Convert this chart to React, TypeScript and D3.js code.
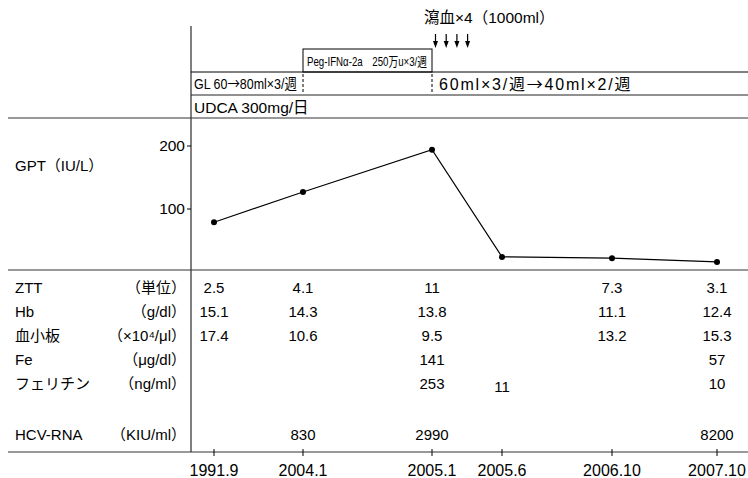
import React from "react";
import * as d3 from "d3";

const dates = ["1991.9", "2004.1", "2005.1", "2005.6", "2006.10", "2007.10"];
const dateNums = [1991.75, 2004.08, 2005.08, 2005.5, 2006.83, 2007.83];
const gpt = [79, 127, 194, 24, 22, 16];
const gptTicks = [100, 200];

const rowLabels = ["ZTT", "Hb", "血小板", "Fe", "フェリチン", "HCV-RNA"];
const rowUnits = ["（単位）", "（g/dl）", "（×10⁴/μl）", "（μg/dl）", "（ng/ml）", "（KIU/ml）"];
const ztt = [2.5, 4.1, 11, null, 7.3, 3.1];
const hb = [15.1, 14.3, 13.8, null, 11.1, 12.4];
const plt = [17.4, 10.6, 9.5, null, 13.2, 15.3];
const fe = [null, null, 141, null, null, 57];
const ferritin = [null, null, 253, 11, null, 10];
const hcv = [null, 830, 2990, null, null, 8200];
const rows = [ztt, hb, plt, fe, ferritin, hcv];

const FONT = "'Liberation Sans', Arial, 'Noto Sans CJK JP', sans-serif";
const CJK = "'Noto Sans CJK JP', sans-serif";

function Arrowed({ text }: { text: string }) {
  const parts = text.split("→");
  return (
    <>
      {parts.map((p, i) => (
        <React.Fragment key={i}>
          {i > 0 ? <tspan fontFamily={CJK}>→</tspan> : null}
          <tspan>{p}</tspan>
        </React.Fragment>
      ))}
    </>
  );
}

export default function App() {
  const W = 748, H = 478;
  const axisX = 191;
  const x = d3.scaleLinear().domain(dateNums).range([214, 303, 432, 502, 612, 717]);
  const y = d3.scaleLinear().domain([0, 200]).range([272, 146]);
  const line = d3.line<number>().x((_, i) => x(dateNums[i])).y((d) => y(d));
  const rowY = [288, 312, 336, 360, 384, 435];

  const xPeg0 = x(dateNums[1]);
  const xPeg1 = x(dateNums[2]);
  const arrowXs = [0, 1, 2, 3].map((i) => xPeg1 + 3.5 + i * 10.7);

  return (
    <svg width={W} height={H} style={{ position: "absolute", left: 0, top: 0, background: "#fff" }} fontFamily={FONT}>
      {/* frame lines */}
      <line x1={axisX} x2={axisX} y1={26} y2={452} stroke="#000" strokeWidth={1} />
      <line x1={axisX} x2={W} y1={72} y2={72} stroke="#000" strokeWidth={1} />
      <line x1={axisX} x2={W} y1={95} y2={95} stroke="#222" strokeWidth={1} />
      <line x1={8} x2={W} y1={118} y2={118} stroke="#333" strokeWidth={1.2} />
      <line x1={8} x2={W} y1={270} y2={270} stroke="#333" strokeWidth={1.2} />
      <line x1={8} x2={W} y1={452} y2={452} stroke="#333" strokeWidth={1.2} />

      {/* Peg box */}
      <rect x={xPeg0} y={49} width={xPeg1 - xPeg0} height={23} fill="none" stroke="#000" strokeWidth={1} />
      <text x={xPeg0 + 4} y={66} fontSize={13} textLength={xPeg1 - xPeg0 - 9} lengthAdjust="spacingAndGlyphs">
        Peg-IFNα-2a　250万u×3/週
      </text>
      {/* dashed separators */}
      <line x1={xPeg0} x2={xPeg0} y1={74} y2={94} stroke="#000" strokeDasharray="3,2" />
      <line x1={xPeg1} x2={xPeg1} y1={74} y2={94} stroke="#000" strokeDasharray="3,2" />
      <text transform="translate(194,89) scale(0.83,1)" fontSize={15}><Arrowed text="GL 60→80ml×3/週" /></text>
      <text x={xPeg1 + 7} y={90} fontSize={16} letterSpacing={1.8}><Arrowed text="60ml×3/週→40ml×2/週" /></text>
      <text x={194} y={113} fontSize={15.5}>UDCA 300mg/日</text>

      {/* phlebotomy */}
      <text x={424} y={23} fontSize={15.5}>瀉血×4（1000ml）</text>
      {arrowXs.map((ax, i) => (
        <g key={i}>
          <line x1={ax} x2={ax} y1={34} y2={42} stroke="#000" strokeWidth={1.2} />
          <path d={`M${ax - 2.5},${41} L${ax + 2.5},${41} L${ax},${48} Z`} fill="#000" />
        </g>
      ))}

      {/* GPT panel */}
      <text x={15} y={171} fontSize={15}>GPT（IU/L）</text>
      {gptTicks.map((t) => (
        <g key={t}>
          <line x1={axisX - 4} x2={axisX} y1={y(t)} y2={y(t)} stroke="#000" />
          <text x={axisX - 6} y={y(t) + 5} fontSize={15.5} textAnchor="end">{t}</text>
        </g>
      ))}
      <path d={line(gpt) || ""} fill="none" stroke="#000" strokeWidth={1.2} />
      {gpt.map((v, i) => (
        <circle key={i} cx={x(dateNums[i])} cy={y(v)} r={3} fill="#000" />
      ))}

      {/* table */}
      {rowLabels.map((lab, r) => (
        <g key={lab}>
          <text x={15} y={rowY[r] + 5} fontSize={15}>{lab}</text>
          <text x={186} y={rowY[r] + 5} fontSize={15} textAnchor="end">{rowUnits[r]}</text>
          {rows[r].map((v, i) =>
            v == null ? null : (
              <text key={i} x={x(dateNums[i])} y={rowY[r] + 5 + (r === 4 && i === 3 ? 3 : 0)} fontSize={15} textAnchor="middle">
                {String(v)}
              </text>
            )
          )}
        </g>
      ))}

      {/* bottom axis */}
      {dates.map((d, i) => (
        <g key={d}>
          <line x1={x(dateNums[i])} x2={x(dateNums[i])} y1={449} y2={456} stroke="#000" />
          <text x={x(dateNums[i])} y={476} fontSize={16} textAnchor="middle">{d}</text>
        </g>
      ))}
    </svg>
  );
}
